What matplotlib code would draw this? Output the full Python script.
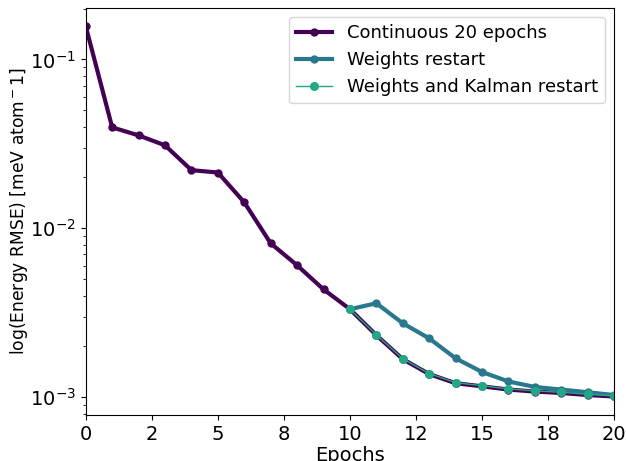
import matplotlib
matplotlib.use("Agg")
import matplotlib.pyplot as plt
import matplotlib.ticker as mticker

epochs = list(range(0, 21))
continuous = [0.157, 0.0396, 0.0355, 0.0310, 0.0221, 0.0214, 0.01425, 0.00815,
              0.00604, 0.00435, 0.00332, 0.00233, 0.00168, 0.00137, 0.00121,
              0.00116, 0.00111, 0.00108, 0.00106, 0.00103, 0.00101]
restart_epochs = list(range(10, 21))
weights_restart = [0.00332, 0.00360, 0.00274, 0.00223, 0.00170, 0.00141,
                   0.00124, 0.00115, 0.00111, 0.00107, 0.00103]
kalman_restart = [0.00332, 0.00234, 0.00169, 0.00138, 0.00122, 0.00117,
                  0.00112, 0.00109, 0.00107, 0.00104, 0.00102]

fig = plt.figure(figsize=(6.26, 4.61), dpi=100)
ax = fig.add_subplot(111)
ax.plot(epochs, continuous, "-o", color="#440154", lw=3, ms=5, label="Continuous 20 epochs")
ax.plot(restart_epochs, weights_restart, "-o", color="#2a788e", lw=3, ms=5, label="Weights restart")
ax.plot(restart_epochs, kalman_restart, "-o", color="#22a884", lw=1, ms=5.5, label="Weights and Kalman restart")
ax.set_yscale("log")
ax.set_xlim(0, 20)
ax.set_xticks([0, 2.5, 5, 7.5, 10, 12.5, 15, 17.5, 20])
ax.xaxis.set_major_formatter(mticker.FuncFormatter(lambda v, p: "%.0f" % v))
ax.tick_params(labelsize=14)
ax.set_xlabel("Epochs", fontsize=14, labelpad=2)
ax.set_ylabel("log(Energy RMSE) [meV atom$^-1$]", fontsize=12.3, labelpad=0)
ax.legend(fontsize=13, loc="upper right")
fig.subplots_adjust(left=0.137, right=0.981, top=0.983, bottom=0.0998)
fig.savefig("out.png", dpi=100)
